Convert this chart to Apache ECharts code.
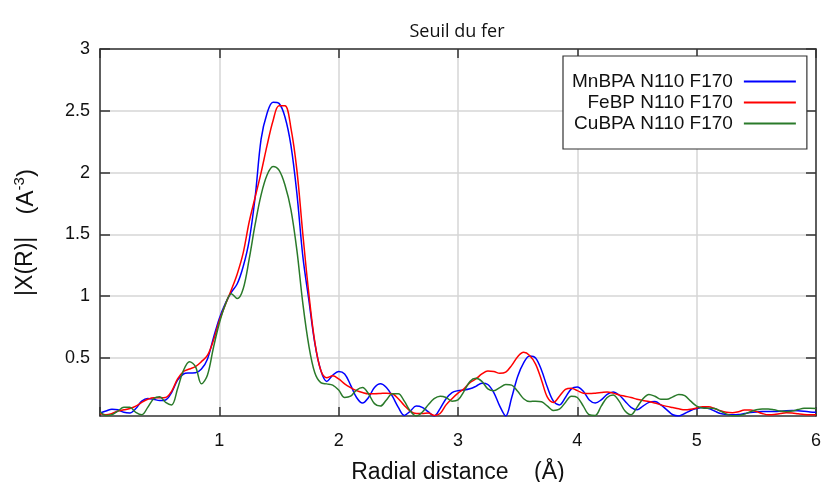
<!DOCTYPE html>
<html>
<head>
<meta charset="utf-8">
<script src="https://cdn.jsdelivr.net/npm/echarts@6/dist/echarts.min.js"></script>
<style>html,body{margin:0;padding:0;background:#fff}#c{width:824px;height:482px}</style>
</head>
<body>
<div id="c"></div>
<script>
const titleText = 'Seuil du fer';
const xName = 'Radial distance    (Å)';
const seriesNames = ['MnBPA N110 F170', 'FeBP N110 F170', 'CuBPA N110 F170'];
const xTicks = [1, 2, 3, 4, 5, 6];
const yTicks = [0.5, 1, 1.5, 2, 2.5, 3];

const xs = [0.00,0.05,0.10,0.15,0.20,0.25,0.30,0.35,0.40,0.45,0.50,0.55,0.60,0.65,0.70,0.75,0.80,0.85,0.90,0.95,
1.00,1.05,1.10,1.15,1.20,1.25,1.30,1.35,1.40,1.45,1.50,1.55,1.60,1.65,1.70,1.75,1.80,1.85,1.90,1.95,
2.00,2.05,2.10,2.15,2.20,2.25,2.30,2.35,2.40,2.45,2.50,2.55,2.60,2.65,2.70,2.75,2.80,2.85,2.90,2.95,
3.00,3.05,3.10,3.15,3.20,3.25,3.30,3.35,3.40,3.45,3.50,3.55,3.60,3.65,3.70,3.75,3.80,3.85,3.90,3.95,
4.00,4.05,4.10,4.15,4.20,4.25,4.30,4.35,4.40,4.45,4.50,4.55,4.60,4.65,4.70,4.75,4.80,4.85,4.90,4.95,
5.00,5.05,5.10,5.15,5.20,5.25,5.30,5.35,5.40,5.45,5.50,5.55,5.60,5.65,5.70,5.75,5.80,5.85,5.90,5.95,6.00];

const mnBPA = [0.055,0.07,0.085,0.08,0.06,0.055,0.09,0.15,0.172,0.165,0.155,0.16,0.22,0.32,0.37,0.378,0.38,0.41,0.49,0.66,
0.82,0.94,1.03,1.10,1.24,1.45,1.80,2.27,2.48,2.57,2.56,2.45,2.22,1.83,1.32,0.97,0.62,0.40,0.31,0.36,
0.39,0.37,0.28,0.18,0.135,0.18,0.26,0.29,0.26,0.19,0.10,0.035,0.07,0.11,0.10,0.065,0.03,0.09,0.17,0.22,
0.235,0.24,0.25,0.27,0.295,0.285,0.22,0.11,0.03,0.18,0.35,0.46,0.515,0.50,0.40,0.26,0.15,0.12,0.18,0.25,
0.265,0.23,0.16,0.135,0.16,0.205,0.225,0.20,0.15,0.10,0.08,0.11,0.14,0.147,0.12,0.08,0.04,0.03,0.05,0.075,
0.09,0.098,0.09,0.07,0.05,0.042,0.04,0.042,0.05,0.058,0.063,0.066,0.066,0.066,0.068,0.072,0.074,0.072,0.068,0.063,0.06];

const feBP = [0.05,0.04,0.05,0.07,0.08,0.09,0.11,0.14,0.165,0.178,0.178,0.18,0.23,0.33,0.39,0.41,0.43,0.47,0.52,0.64,
0.80,0.93,1.05,1.18,1.35,1.60,1.80,2.00,2.22,2.42,2.54,2.54,2.36,2.02,1.50,1.02,0.63,0.40,0.34,0.355,
0.33,0.29,0.26,0.235,0.22,0.21,0.21,0.212,0.215,0.21,0.17,0.115,0.07,0.05,0.05,0.055,0.035,0.05,0.12,0.17,
0.215,0.25,0.30,0.33,0.37,0.395,0.39,0.375,0.385,0.44,0.51,0.545,0.52,0.45,0.32,0.18,0.14,0.19,0.245,0.255,
0.235,0.215,0.212,0.215,0.22,0.225,0.215,0.20,0.19,0.18,0.165,0.155,0.148,0.135,0.12,0.108,0.098,0.088,0.08,0.085,
0.095,0.105,0.104,0.09,0.072,0.06,0.057,0.065,0.078,0.078,0.066,0.05,0.04,0.042,0.05,0.057,0.055,0.048,0.042,0.04,0.04];

const cuBPA = [0.065,0.035,0.04,0.07,0.10,0.10,0.06,0.04,0.10,0.17,0.185,0.14,0.12,0.25,0.40,0.47,0.43,0.29,0.36,0.58,
0.78,0.93,1.02,0.98,1.06,1.30,1.58,1.82,1.98,2.05,2.02,1.90,1.70,1.37,0.94,0.60,0.38,0.30,0.29,0.28,
0.24,0.18,0.19,0.24,0.26,0.21,0.13,0.11,0.16,0.21,0.21,0.15,0.07,0.03,0.06,0.12,0.17,0.19,0.18,0.15,
0.16,0.23,0.31,0.335,0.31,0.25,0.235,0.26,0.285,0.28,0.23,0.17,0.147,0.15,0.145,0.11,0.075,0.085,0.14,0.19,
0.18,0.11,0.04,0.035,0.11,0.18,0.20,0.15,0.07,0.04,0.10,0.17,0.205,0.19,0.165,0.165,0.185,0.205,0.195,0.15,
0.11,0.095,0.093,0.09,0.07,0.045,0.032,0.033,0.045,0.065,0.08,0.087,0.087,0.08,0.07,0.066,0.07,0.082,0.092,0.093,0.09];

const colors = ['#0000ff', '#ff0000', '#2a7a2a'];
const seriesValues = [mnBPA, feBP, cuBPA];

const chart = echarts.init(document.getElementById('c'), null, {renderer: 'canvas'});
const FONT = '"Liberation Sans", Arial, sans-serif';
const axisLineStyle = {color: '#333', width: 1.5};

const option = {
  backgroundColor: '#ffffff',
  animation: false,
  title: {
    text: titleText, left: 452, top: 18, textAlign: 'center',
    textStyle: {fontFamily: '"Open Sans", sans-serif', fontSize: 18, fontWeight: 'normal', color: '#111'}
  },
  legend: {
    orient: 'vertical', left: 563, top: 56, align: 'right',
    padding: [15, 11, 15, 9], itemGap: 0, itemWidth: 52, itemHeight: 2, icon: 'rect',
    backgroundColor: '#fff', borderColor: '#333', borderWidth: 1.2,
    textStyle: {fontFamily: FONT, fontSize: 19, lineHeight: 21, color: '#111', padding: [0, 6, 0, 0]},
    data: seriesNames
  },
  grid: {left: 100, right: 8, top: 49, bottom: 66, containLabel: false, outerBoundsMode: 'none'},
  xAxis: [{
    type: 'value', min: 0, max: 6, interval: 1, position: 'bottom',
    name: xName, nameLocation: 'middle', nameGap: 45,
    nameTextStyle: {fontFamily: FONT, fontSize: 23, color: '#111'},
    axisLine: {show: true, onZero: false, lineStyle: axisLineStyle},
    axisTick: {show: true, inside: true, length: 9, lineStyle: axisLineStyle},
    axisLabel: {fontFamily: FONT, fontSize: 18, color: '#111', margin: 16,
      formatter: v => (xTicks.indexOf(v) >= 0 ? String(v) : '')},
    splitLine: {show: true, lineStyle: {color: '#d6d6d6', width: 1.5}}
  }, {
    type: 'value', min: 0, max: 6, interval: 1, position: 'top',
    axisLine: {show: true, onZero: false, lineStyle: axisLineStyle},
    axisTick: {show: true, inside: true, length: 9, lineStyle: axisLineStyle},
    axisLabel: {show: false}, splitLine: {show: false}
  }],
  yAxis: [{
    type: 'value', min: 0.03, max: 3, position: 'left',
    name: '{a||X(R)|}{g|    }{b|(A}{s|-3}{b|)}', nameLocation: 'middle', nameGap: 60, nameRotate: 90,
    nameTextStyle: {
      fontFamily: FONT, color: '#111',
      rich: {
        a: {fontFamily: FONT, fontSize: 23, color: '#111'},
        g: {fontFamily: FONT, fontSize: 20, color: '#111'},
        b: {fontFamily: FONT, fontSize: 24, color: '#111'},
        s: {fontFamily: FONT, fontSize: 15, color: '#111', padding: [0, 0, 13, 0]}
      }
    },
    axisLine: {show: true, onZero: false, lineStyle: axisLineStyle},
    axisTick: {show: true, inside: true, length: 10, lineStyle: axisLineStyle, customValues: yTicks},
    axisLabel: {fontFamily: FONT, fontSize: 18, color: '#111', margin: 10, customValues: yTicks},
    splitLine: {show: true, lineStyle: {color: '#d6d6d6', width: 1.5}}
  }, {
    type: 'value', min: 0.03, max: 3, position: 'right',
    axisLine: {show: true, onZero: false, lineStyle: axisLineStyle},
    axisTick: {show: true, inside: true, length: 10, lineStyle: axisLineStyle, customValues: yTicks},
    axisLabel: {show: false, customValues: yTicks}, splitLine: {show: false}
  }],
  series: seriesNames.map((n, i) => ({
    name: n, type: 'line', xAxisIndex: 0, yAxisIndex: 0,
    data: xs.map((x, k) => [x, seriesValues[i][k]]),
    symbol: 'none', smooth: 0.35, clip: true,
    lineStyle: {color: colors[i], width: 1.5},
    itemStyle: {color: colors[i]}
  }))
};
chart.setOption(option);
</script>
</body>
</html>
